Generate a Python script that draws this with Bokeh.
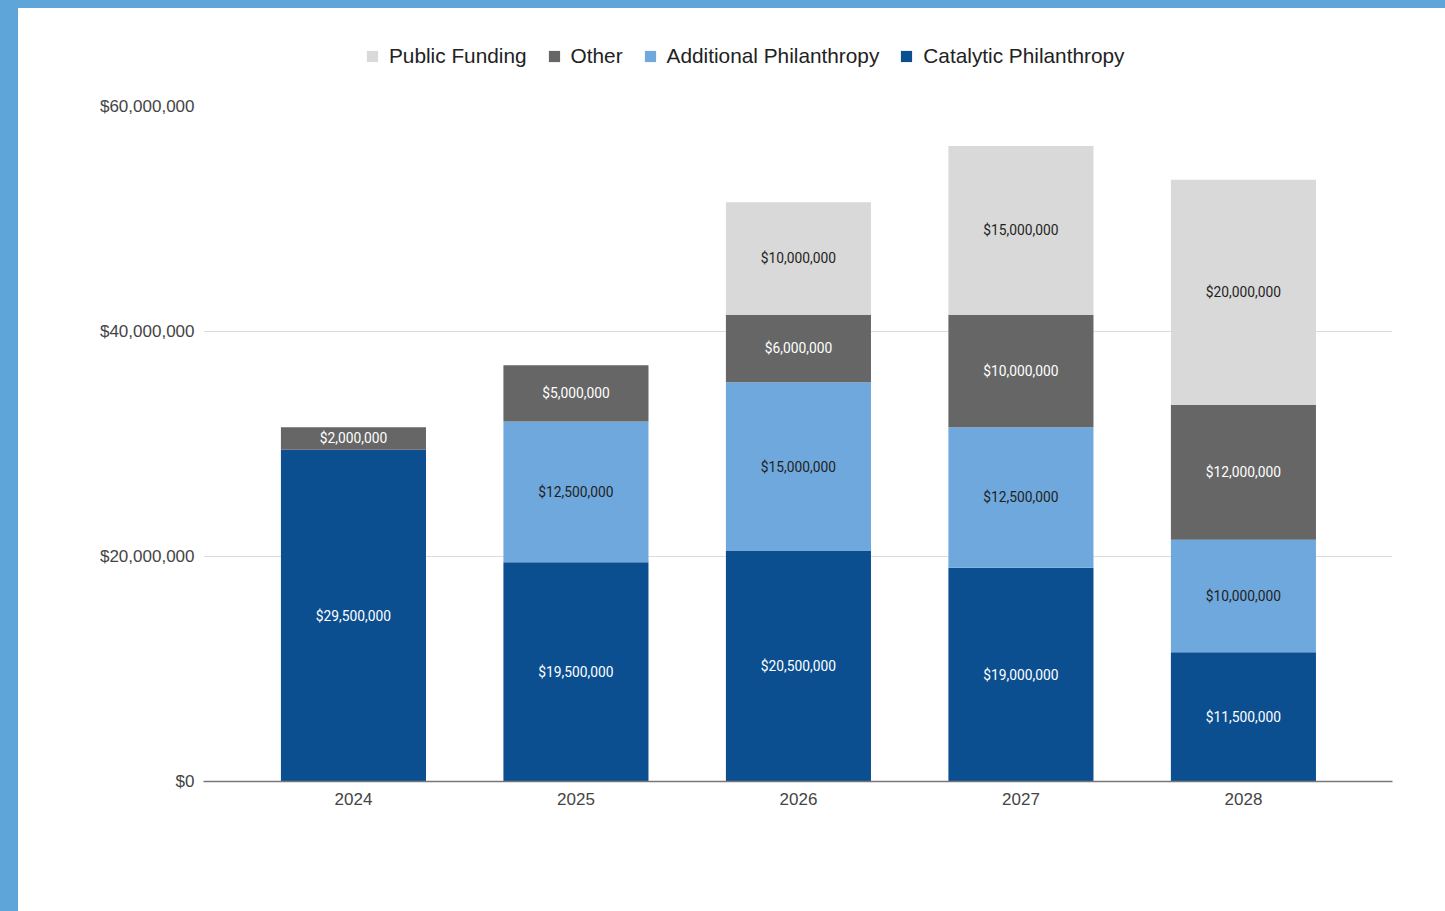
from bokeh.plotting import figure
from bokeh.models import (ColumnDataSource, Range1d, FixedTicker, NumeralTickFormatter,
                          Legend, LegendItem)
from bokeh.layouts import column
from bokeh.core.properties import value
from bokeh.embed import file_html
from bokeh.resources import INLINE

years = ["2024", "2025", "2026", "2027", "2028"]
catalytic = [29500000, 19500000, 20500000, 19000000, 11500000]
additional = [0, 12500000, 15000000, 12500000, 10000000]
other = [2000000, 5000000, 6000000, 10000000, 12000000]
public = [0, 0, 10000000, 15000000, 20000000]

series = [
    ("Catalytic Philanthropy", catalytic, "#0b4f91", "#ffffff"),
    ("Additional Philanthropy", additional, "#6fa8dc", "#1f1f1f"),
    ("Other", other, "#666666", "#ffffff"),
    ("Public Funding", public, "#d9d9d9", "#1f1f1f"),
]
legend_order = ["Public Funding", "Other", "Additional Philanthropy", "Catalytic Philanthropy"]

xs = list(range(len(years)))

# ---- main chart ----
p = figure(frame_width=1189, frame_height=675, output_backend="svg", toolbar_location=None,
           x_range=Range1d(-0.674, len(years) - 1 + 0.67), y_range=Range1d(0, 60000000),
           min_border_left=185, min_border_right=53, min_border_top=10, min_border_bottom=130)
p.outline_line_color = None
p.background_fill_color = "white"
p.border_fill_color = "white"
p.styles = {"background-color": "white"}

# ---- legend strip (same series, hidden renderers) ----
pl = figure(width=1427, height=88, output_backend="svg", toolbar_location=None,
            x_axis_location=None, y_axis_location=None,
            x_range=Range1d(-0.674, len(years) - 1 + 0.67), y_range=Range1d(0, 60000000),
            min_border=0, min_border_left=0, min_border_right=0,
            min_border_top=0, min_border_bottom=0)
pl.outline_line_color = None
pl.grid.grid_line_color = None
pl.background_fill_color = "white"
pl.border_fill_color = "white"
pl.styles = {"background-color": "white"}

bottoms = [0] * len(years)
leg_renderers = {}
for name, vals, color, tcolor in series:
    tops = [b + v for b, v in zip(bottoms, vals)]
    src = ColumnDataSource(dict(x=xs, top=tops, bottom=bottoms))
    p.vbar(x="x", top="top", bottom="bottom", width=0.652, source=src,
           fill_color=color, line_color=None)
    lr = pl.vbar(x="x", top="top", bottom="bottom", width=0.652, source=src,
                 fill_color=color, line_color=None)
    lr.visible = False
    leg_renderers[name] = lr
    lx, ly, lt = [], [], []
    for i, v in enumerate(vals):
        if v > 0:
            lx.append(xs[i])
            ly.append((bottoms[i] + tops[i]) / 2)
            lt.append("${:,}".format(v))
    p.text(x=lx, y=ly, text=lt, text_align="center", text_baseline="middle",
           text_color=tcolor, text_font=value("Roboto"), text_font_size="13.8px")
    bottoms = tops

p.yaxis.ticker = FixedTicker(ticks=[0, 20000000, 40000000, 60000000])
p.yaxis.formatter = NumeralTickFormatter(format="$0,0")
p.yaxis.axis_line_color = None
p.yaxis.major_tick_line_color = None
p.yaxis.minor_tick_line_color = None
p.yaxis.major_label_text_font = "Liberation Sans"
p.yaxis.major_label_text_font_size = "17px"
p.yaxis.major_label_text_color = "#444444"
p.yaxis.major_label_standoff = 3

p.xaxis.ticker = FixedTicker(ticks=xs)
p.xaxis.major_label_overrides = {i: y for i, y in enumerate(years)}
p.xaxis.axis_line_color = "#777777"
p.xaxis.axis_line_width = 1.5
p.xaxis.major_tick_line_color = None
p.xaxis.minor_tick_line_color = None
p.xaxis.major_label_text_font = "Liberation Sans"
p.xaxis.major_label_text_font_size = "17px"
p.xaxis.major_label_text_color = "#444444"
p.xaxis.major_label_standoff = 5

p.xgrid.grid_line_color = None
p.ygrid.grid_line_color = "#dcdcdc"
p.ygrid.grid_line_width = 1.2

legend = Legend(items=[LegendItem(label=n, renderers=[leg_renderers[n]]) for n in legend_order],
                orientation="horizontal", location=(162, 28), click_policy="none",
                glyph_width=14, glyph_height=14, label_standoff=10, spacing=20,
                label_text_font="Liberation Sans", label_text_font_size="20.8px",
                label_text_color="#222222", border_line_color=None,
                background_fill_alpha=0, padding=0, margin=0)
pl.add_layout(legend, "center")

layout = column(pl, p, spacing=0,
                styles={"background-color": "#5ea6da", "padding-left": "18px",
                        "padding-top": "8px"})

open("out.html", "w").write(file_html(layout, INLINE))
